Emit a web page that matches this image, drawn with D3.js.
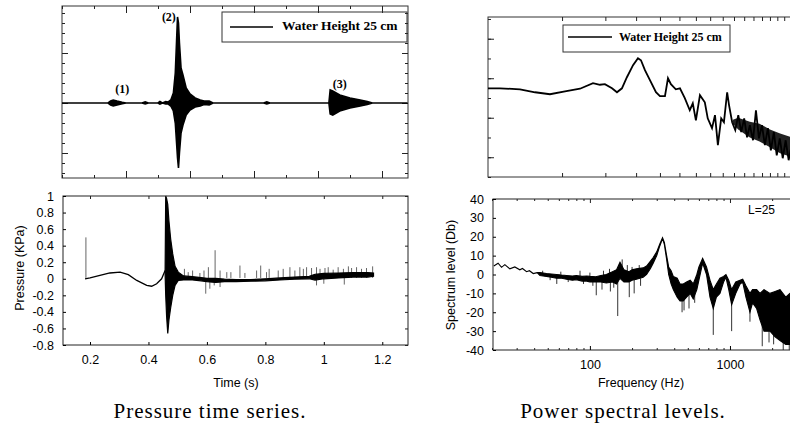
<!DOCTYPE html>
<html>
<head>
<meta charset="utf-8">
<script src="https://cdnjs.cloudflare.com/ajax/libs/d3/7.8.5/d3.min.js"></script>
<style>
  body { margin: 0; background: #fff; }
  svg { display: block; }
  .sans { font-family: "Liberation Sans", Arial, Helvetica, sans-serif; }
  .serif { font-family: "Liberation Serif", "Times New Roman", serif; }
</style>
</head>
<body>
<svg id="fig" width="790" height="430"></svg>
<script>
// ---------- data ----------

// top left: raw hydrophone trace, envelope [x, low, high] (axis has no labels)
var rawTrace = [
  [0, 0, 0], [0.72, 0, 0], [0.76, -0.02, 0.02], [0.8, -0.03, 0.03], [0.86, -0.02, 0.02],
  [0.94, -0.008, 0.008], [1.0, 0, 0], [1.25, 0, 0], [1.3, -0.01, 0.012], [1.35, 0, 0],
  [1.5, 0, 0], [1.53, -0.012, 0.015], [1.57, 0, 0], [1.62, -0.01, 0.015], [1.66, -0.01, 0.01],
  [1.7, -0.03, 0.03], [1.74, -0.08, 0.1], [1.77, -0.2, 0.3], [1.79, -0.4, 0.62],
  [1.805, -0.55, 0.86], [1.82, -0.65, 0.8], [1.835, -0.5, 0.6], [1.86, -0.3, 0.35],
  [1.89, -0.22, 0.28], [1.94, -0.12, 0.15], [2.0, -0.07, 0.09], [2.08, -0.04, 0.05],
  [2.16, -0.03, 0.03], [2.22, -0.015, 0.02], [2.3, -0.02, 0.02], [2.36, 0, 0],
  [3.15, 0, 0], [3.2, -0.01, 0.012], [3.25, 0, 0], [4.17, 0, 0], [4.19, -0.11, 0.13],
  [4.23, -0.12, 0.12], [4.34, -0.08, 0.08], [4.5, -0.05, 0.05], [4.66, -0.03, 0.03],
  [4.77, -0.015, 0.015], [4.85, 0, 0], [5.4, 0, 0]
];
var rawNotes = [[0.94, 0.13, "(1)"], [1.67, 0.85, "(2)"], [4.34, 0.18, "(3)"]];
var legendText = "Water Height 25 cm";

// bottom left: pressure (KPa) vs time (s)
var pressureSlow = [
  [0.183, 0], [0.2, 0.012], [0.234, 0.04], [0.268, 0.07], [0.303, 0.08], [0.331, 0.05],
  [0.36, -0.02], [0.394, -0.08], [0.411, -0.09], [0.428, -0.06], [0.445, 0.0], [0.457, 0.1]
];
var pressureBurst = [
  [0.457, 0.05, 0.1], [0.459, -0.2, 1.0], [0.462, -0.45, 0.97], [0.466, -0.66, 0.9],
  [0.47, -0.5, 0.7], [0.476, -0.35, 0.48], [0.483, -0.2, 0.3], [0.491, -0.08, 0.15],
  [0.502, -0.02, 0.08], [0.52, -0.015, 0.035], [0.55, -0.015, 0.025], [0.58, -0.025, 0.015],
  [0.6, -0.035, 0.005], [0.63, -0.045, 0.005], [0.66, -0.035, -0.005], [0.7, -0.035, -0.01],
  [0.75, -0.03, -0.01], [0.8, -0.025, 0.0], [0.85, -0.015, 0.01], [0.9, -0.005, 0.02],
  [0.95, 0.0, 0.03], [0.97, -0.015, 0.055], [1.0, 0.0, 0.065], [1.05, 0.01, 0.07],
  [1.1, 0.02, 0.075], [1.15, 0.02, 0.075], [1.17, 0.03, 0.07]
];
var pressureSpikes = [
  [0.186, 0.5], [0.523, 0.12], [0.536, 0.08], [0.551, 0.1], [0.576, 0.07], [0.59, 0.1],
  [0.605, 0.14], [0.628, 0.345], [0.645, 0.1], [0.668, 0.08], [0.682, 0.08], [0.713, 0.16],
  [0.73, 0.07], [0.77, 0.1], [0.784, 0.16], [0.804, 0.08], [0.813, 0.12], [0.844, 0.1],
  [0.861, 0.12], [0.884, 0.14], [0.901, 0.1], [0.918, 0.14], [0.93, 0.12], [0.941, 0.14],
  [0.958, 0.13], [0.975, 0.14], [0.987, 0.12], [1.004, 0.13], [1.015, 0.14], [1.032, 0.11],
  [1.049, 0.14], [1.067, 0.12], [1.084, 0.15], [1.095, 0.13], [1.112, 0.14], [1.129, 0.12],
  [1.146, 0.13], [1.167, 0.15],
  [0.596, -0.18], [0.61, -0.12], [0.625, -0.08], [0.645, -0.1], [0.975, -0.08], [1.0, -0.06],
  [1.07, -0.07]
];
var timeTicks = [0.2, 0.4, 0.6, 0.8, 1, 1.2];
var timeLabels = ["0.2", "0.4", "0.6", "0.8", "1", "1.2"];
var pressTicks = [1, 0.8, 0.6, 0.4, 0.2, 0, -0.2, -0.4, -0.6, -0.8];
var pressLabels = ["1", "0.8", "0.6", "0.4", "0.2", "0", "-0.2", "-0.4", "-0.6", "-0.8"];

// top right: raw spectrum, [x, level] (log x, no labels)
var rawSpectrum = [
  [1.0, 34.9], [1.119, 34.9], [1.349, 34.4], [1.553, 32.9], [1.786, 31.9], [2.056, 33.4],
  [2.366, 34.7], [2.672, 37.5], [2.851, 36.7], [2.987, 37.0], [3.192, 34.9], [3.344, 32.9],
  [3.503, 34.9], [3.67, 40.5], [3.887, 46.6], [4.07, 50.1], [4.186, 49.1], [4.345, 44.1],
  [4.553, 39.0], [4.817, 32.9], [5.0, 30.9], [5.24, 30.9], [5.39, 40.0], [5.54, 37.0],
  [5.8, 34.4], [6.03, 34.9], [6.31, 29.9], [6.61, 23.8], [6.8, 27.3], [7.0, 18.7],
  [7.27, 31.4], [7.61, 27.8], [7.82, 19.7], [8.14, 14.7], [8.37, 21.3], [8.6, 6.1],
  [8.87, 19.7], [9.1, 17.7], [9.38, 32.9], [9.55, 26.3], [9.83, 17.7], [10.12, 13.7],
  [10.41, 21.3], [10.7, 12.7], [11.0, 19.7], [11.3, 10.1], [11.6, 16.2], [11.95, 8.6],
  [12.28, 23.8], [12.63, 9.6], [12.99, 16.2], [13.35, 6.1], [13.73, 14.7], [14.12, 3.5],
  [14.52, 12.7], [14.92, 1.0], [15.35, 9.6], [15.78, -0.5], [16.22, 8.6], [16.68, -1.5],
  [17.15, 6.1]
];
// dense noisy part at the high end, [x, low, high]
var rawSpectrumBand = [
  [9.9, 17, 19], [10.4, 14, 20], [11.6, 10, 18], [12.7, 8, 17], [14.0, 5, 14],
  [15.4, 2, 12], [17.2, 0, 10]
];

// bottom right: spectrum level (Db) vs frequency (Hz), envelope [f, low, high]
var specBand = [
  [20.6, 4.5, 4.5], [22.1, 6, 6], [23.4, 3.8, 3.8], [24.7, 5.2, 5.2], [26.8, 3, 3],
  [29.1, 4, 4], [31.6, 2.5, 2.5], [33, 3.2, 3.2], [35.3, 1.5, 1.5], [37, 2, 2],
  [39.4, 0.5, 0.5], [42, 1, 1], [44, -0.5, 1], [49, -1, 0.5], [53, -1.5, 0.3],
  [57.8, -2, 0], [63, -2, -0.3], [68, -2.5, -0.5], [75, -3, -0.8], [80, -2.8, -0.5],
  [88, -3.5, -1], [95, -3.5, -0.8], [100, -4, -1], [110, -4, -1.2], [120, -4, -0.5],
  [131, -4.5, 0], [145, -4, 1.5], [155, -5, 2.5], [164, -2, 6.5], [175, -4, 2.5],
  [190, -4, 1.5], [200, -3, 2.5], [215, -2.5, 3], [240, -1.5, 3.5], [254, 0, 4.5],
  [270, 3, 7], [283, 6, 9], [300, 10, 12], [315, 15, 16], [330, 19, 19.5],
  [340, 16, 17], [353, 8, 10], [365, 0, 4], [380, -5, 2], [394, -8, -1], [420, -12, -2],
  [440, -14, -5], [464, -14, -5], [490, -12, -4], [520, -10, -3], [547, -13, -5],
  [580, -8, 0], [600, -3, 4], [638, 6, 8.5], [680, 0, 4], [720, -12, -3], [760, -18, -8],
  [800, -12, -5], [848, -10, -2], [900, -4, -1], [936, -1.5, 0], [980, -8, -3],
  [1028, -16, -8], [1100, -10, -4], [1180, -5, -3], [1233, -4, -2.5], [1300, -12, -6],
  [1389, -20, -10], [1450, -15, -8], [1550, -18, -8], [1638, -24, -10], [1750, -30, -8],
  [1931, -30, -10], [2100, -33, -9], [2276, -35, -8], [2500, -37, -12], [2683, -37, -10],
  [3100, -36, -10]
];
// single noise spikes, [f, from, to]
var specSpikes = [
  [46, 0, 2], [52, -1, -3], [58, -1, -5], [62, 0, 1.5], [70, -1, -4], [85, -1, 2],
  [90, -2, -5], [100, -2, 1], [105, -2, -6], [111, -2, -11], [122, -2, -8], [125, -1, 2],
  [138, 0, 3], [140, -2, -9], [148, -2, -7], [158, -2, -22], [170, 0, 8], [185, 0, 5],
  [191, -2, -12], [200, 0, 4], [207, -2, -10], [225, 0, 5], [230, -2, -6],
  [455, -8, -20], [470, -8, -19], [510, -6, -18], [560, -6, -15], [760, -10, -32],
  [1028, -10, -30], [1389, -12, -25], [1700, -12, -38], [1900, -12, -36], [2050, -12, -37],
  [2400, -12, -40], [2650, -12, -40]
];
var freqMajor = [100, 1000];
var freqLabels = ["100", "1000"];
var levelTicks = [40, 30, 20, 10, 0, -10, -20, -30, -40];
var levelLabels = ["40", "30", "20", "10", "0", "-10", "-20", "-30", "-40"];
var noteL = "L=25";

var captions = ["Pressure time series.", "Power spectral levels."];

// ---------- drawing ----------
var svg = d3.select("#fig");

function box(x0, y0, x1, y1, col) {
  svg.append("rect").attr("x", x0).attr("y", y0).attr("width", x1 - x0).attr("height", y1 - y0)
    .attr("fill", "none").attr("stroke", col).attr("stroke-width", 1);
}
function ticksOnly(axis, tx, ty, col) {
  var g = svg.append("g").attr("transform", "translate(" + tx + "," + ty + ")").call(axis);
  g.select(".domain").remove();
  g.selectAll("line").attr("stroke", col);
  g.selectAll("text").remove();
  return g;
}

// ===== top left =====
var xRaw = d3.scaleLinear().domain([0, 5.406]).range([62, 408]);
var yRaw = d3.scaleLinear().domain([-0.75, 0.97]).range([178, 6]);
var rawMinor = d3.range(0, 5.41, 0.5), rawMajor = d3.range(1, 5.1, 1);
var rawYMinor = d3.range(-0.7, 0.96, 0.1), rawYMajor = [-0.5, 0, 0.5];
box(62, 6, 408, 178, "#333");
ticksOnly(d3.axisBottom(xRaw).tickValues(rawMinor).tickSize(3), 0, 6, "#222");
ticksOnly(d3.axisBottom(xRaw).tickValues(rawMajor).tickSize(7), 0, 6, "#222");
ticksOnly(d3.axisTop(xRaw).tickValues(rawMinor).tickSize(3), 0, 178, "#222");
ticksOnly(d3.axisTop(xRaw).tickValues(rawMajor).tickSize(7), 0, 178, "#222");
ticksOnly(d3.axisRight(yRaw).tickValues(rawYMinor).tickSize(3), 62, 0, "#222");
ticksOnly(d3.axisRight(yRaw).tickValues(rawYMajor).tickSize(6), 62, 0, "#222");
ticksOnly(d3.axisLeft(yRaw).tickValues(rawYMinor).tickSize(3), 408, 0, "#222");
ticksOnly(d3.axisLeft(yRaw).tickValues(rawYMajor).tickSize(6), 408, 0, "#222");

svg.append("path").datum(rawTrace)
  .attr("d", d3.area().x(function(d) { return xRaw(d[0]); })
    .y0(function(d) { return yRaw(d[1]); }).y1(function(d) { return yRaw(d[2]); }))
  .attr("fill", "#000").attr("stroke", "#000").attr("stroke-width", 1.6);

svg.selectAll(".rawnote").data(rawNotes).enter().append("text")
  .attr("class", "serif")
  .attr("x", function(d) { return xRaw(d[0]); })
  .attr("y", function(d) { return yRaw(d[1]); })
  .attr("text-anchor", "middle").attr("dominant-baseline", "middle")
  .style("font-size", "12px").style("font-weight", "bold")
  .text(function(d) { return d[2]; });

// legend
box(222, 12, 407, 42, "#333");
svg.append("line").attr("x1", 230).attr("x2", 273).attr("y1", 27).attr("y2", 27)
  .attr("stroke", "#000").attr("stroke-width", 1.6);
svg.append("text").attr("class", "serif").attr("x", 282).attr("y", 27)
  .attr("dominant-baseline", "middle").style("font-size", "13.5px").style("font-weight", "bold")
  .text(legendText);

// ===== bottom left =====
var xT = d3.scaleLinear().domain([0.1076, 1.288]).range([63, 408]);
var yP = d3.scaleLinear().domain([-0.8, 1]).range([345, 196]);

svg.append("path").datum(pressureSlow)
  .attr("d", d3.line().x(function(d) { return xT(d[0]); }).y(function(d) { return yP(d[1]); }))
  .attr("fill", "none").attr("stroke", "#000").attr("stroke-width", 1.3);
svg.selectAll(".pspike").data(pressureSpikes).enter().append("line")
  .attr("x1", function(d) { return xT(d[0]); }).attr("x2", function(d) { return xT(d[0]); })
  .attr("y1", yP(0.01)).attr("y2", function(d) { return yP(d[1]); })
  .attr("stroke", "#666").attr("stroke-width", 1);
svg.append("path").datum(pressureBurst)
  .attr("d", d3.area().x(function(d) { return xT(d[0]); })
    .y0(function(d) { return yP(d[1]); }).y1(function(d) { return yP(d[2]); }))
  .attr("fill", "#000").attr("stroke", "#000").attr("stroke-width", 1.2);

box(63, 196, 408, 345, "#222");
var gx = svg.append("g").attr("class", "sans").attr("transform", "translate(0,345)")
  .call(d3.axisBottom(xT).tickValues(timeTicks).tickSize(-3).tickPadding(10)
    .tickFormat(function(d, i) { return timeLabels[i]; }));
gx.select(".domain").remove();
gx.selectAll("text").style("font-size", "12.5px").attr("fill", "#000");
var gy = svg.append("g").attr("class", "sans").attr("transform", "translate(63,0)")
  .call(d3.axisLeft(yP).tickValues(pressTicks).tickSize(-3).tickPadding(9)
    .tickFormat(function(d, i) { return pressLabels[i]; }));
gy.select(".domain").remove();
gy.selectAll("text").style("font-size", "12.5px").attr("fill", "#000");
ticksOnly(d3.axisBottom(xT).tickValues(timeTicks).tickSize(3), 0, 196, "#222");
ticksOnly(d3.axisLeft(yP).tickValues(pressTicks).tickSize(3), 408, 0, "#222");

svg.append("text").attr("class", "sans").attr("x", 236).attr("y", 387)
  .attr("text-anchor", "middle").style("font-size", "12.5px").text("Time (s)");
svg.append("text").attr("class", "sans")
  .attr("transform", "translate(24,268)rotate(-90)")
  .attr("text-anchor", "middle").style("font-size", "12.5px").text("Pressure (KPa)");

// ===== top right =====
var xRs = d3.scaleLog().domain([1, 10]).range([488, 734]);
var yRs = d3.scaleLinear().domain([-10, 71]).range([177, 17]);
var rsTicks = d3.range(2, 18, 1);
box(488, 17, 800, 177, "#333");
ticksOnly(d3.axisBottom(xRs).tickValues(rsTicks).tickSize(4), 0, 17, "#222");
ticksOnly(d3.axisTop(xRs).tickValues(rsTicks).tickSize(4), 0, 177, "#222");
ticksOnly(d3.axisRight(yRs).tickValues(d3.range(-10, 71, 10)).tickSize(3), 488, 0, "#222");
ticksOnly(d3.axisRight(yRs).tickValues([0, 20, 40, 60]).tickSize(6), 488, 0, "#222");

svg.append("path").datum(rawSpectrumBand)
  .attr("d", d3.area().x(function(d) { return xRs(d[0]); })
    .y0(function(d) { return yRs(d[1]); }).y1(function(d) { return yRs(d[2]); }))
  .attr("fill", "#222").attr("stroke", "none");
svg.append("path").datum(rawSpectrum)
  .attr("d", d3.line().x(function(d) { return xRs(d[0]); }).y(function(d) { return yRs(d[1]); }))
  .attr("fill", "none").attr("stroke", "#000").attr("stroke-width", 1.8);

box(563, 25, 730, 52, "#333");
svg.append("line").attr("x1", 568).attr("x2", 612).attr("y1", 37).attr("y2", 37)
  .attr("stroke", "#000").attr("stroke-width", 1.6);
svg.append("text").attr("class", "serif").attr("x", 619).attr("y", 38)
  .attr("dominant-baseline", "middle").style("font-size", "12px").style("font-weight", "bold")
  .text(legendText);

// ===== bottom right =====
var xF = d3.scaleLog().domain([20, 3162]).range([492, 800]);
var yL = d3.scaleLinear().domain([-40, 40]).range([350, 199]);
var freqMinor = [];
[10, 100, 1000].forEach(function(dec) {
  for (var k = 2; k <= 9; k++) { if (k * dec >= 20 && k * dec <= 3162) freqMinor.push(k * dec); }
});

svg.selectAll(".sspike").data(specSpikes).enter().append("line")
  .attr("x1", function(d) { return xF(d[0]); }).attr("x2", function(d) { return xF(d[0]); })
  .attr("y1", function(d) { return yL(d[1]); }).attr("y2", function(d) { return yL(d[2]); })
  .attr("stroke", "#333").attr("stroke-width", 1);
svg.append("path").datum(specBand)
  .attr("d", d3.area().x(function(d) { return xF(d[0]); })
    .y0(function(d) { return yL(d[1]); }).y1(function(d) { return yL(d[2]); }))
  .attr("fill", "#000").attr("stroke", "#000").attr("stroke-width", 1.1);

box(493, 199, 800, 350, "#222");
var gfx = svg.append("g").attr("class", "sans").attr("transform", "translate(0,350)")
  .call(d3.axisBottom(xF).tickValues(freqMajor).tickSize(-4).tickPadding(10)
    .tickFormat(function(d, i) { return freqLabels[i]; }));
gfx.select(".domain").remove();
gfx.selectAll("text").style("font-size", "12.5px").attr("fill", "#000");
ticksOnly(d3.axisTop(xF).tickValues(freqMinor).tickSize(2), 0, 350, "#222");
ticksOnly(d3.axisBottom(xF).tickValues(freqMinor).tickSize(2), 0, 199, "#222");
ticksOnly(d3.axisBottom(xF).tickValues(freqMajor).tickSize(4), 0, 199, "#222");
var gly = svg.append("g").attr("class", "sans").attr("transform", "translate(493,0)")
  .call(d3.axisLeft(yL).tickValues(levelTicks).tickSize(-3).tickPadding(9)
    .tickFormat(function(d, i) { return levelLabels[i]; }));
gly.select(".domain").remove();
gly.selectAll("text").style("font-size", "12.5px").attr("fill", "#000");

svg.append("text").attr("class", "sans").attr("x", 748).attr("y", 214)
  .style("font-size", "12px").text(noteL);
svg.append("text").attr("class", "sans").attr("x", 641).attr("y", 387)
  .attr("text-anchor", "middle").style("font-size", "12.5px").text("Frequency (Hz)");
svg.append("text").attr("class", "sans")
  .attr("transform", "translate(455,275)rotate(-90)")
  .attr("text-anchor", "middle").style("font-size", "12.5px").text("Spectrum level (Db)");

// ===== captions =====
svg.selectAll(".cap").data(captions).enter().append("text")
  .attr("class", "serif")
  .attr("x", function(d, i) { return i == 0 ? 210 : 623; })
  .attr("y", 418)
  .attr("text-anchor", "middle")
  .style("font-size", "21px").style("letter-spacing", "1px")
  .text(function(d) { return d; });
</script>
</body>
</html>
